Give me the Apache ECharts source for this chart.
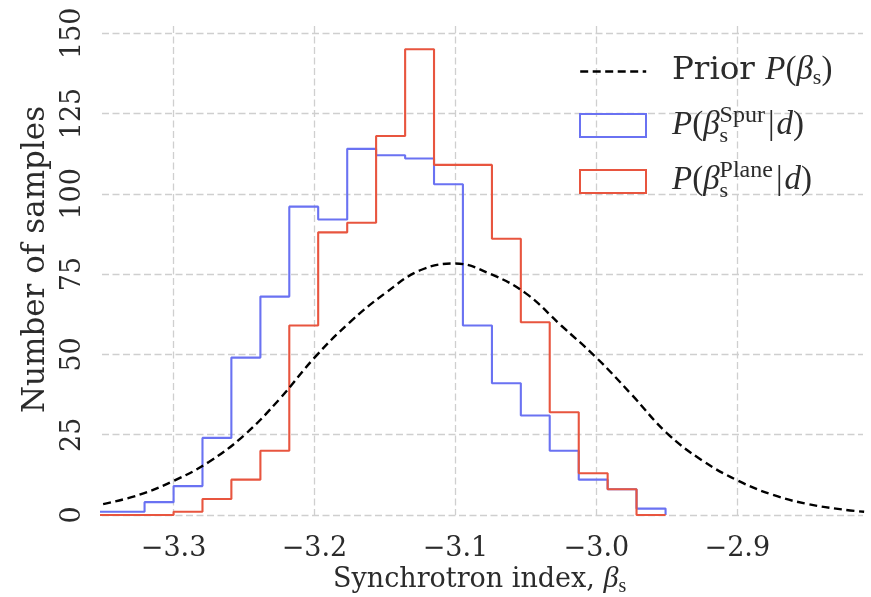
<!DOCTYPE html>
<html>
<head>
<meta charset="utf-8">
<script src="https://cdn.jsdelivr.net/npm/echarts@6/dist/echarts.min.js"></script>
<style>
  html, body { margin: 0; padding: 0; background: #ffffff; }
  #chart { width: 871px; height: 597px; }
</style>
</head>
<body>
<div id="chart"></div>
<script>
// Histogram bin edges (synchrotron index)
const binEdges = [-3.3616, -3.3411, -3.3206, -3.3000, -3.2795, -3.2590, -3.2384,
  -3.2179, -3.1974, -3.1768, -3.1563, -3.1357, -3.1152, -3.0947, -3.0741,
  -3.0536, -3.0331, -3.0125, -2.9920, -2.9715, -2.9509];
// Sample counts per bin
const spurCounts = [1, 1, 4, 9, 24, 49, 68, 96, 92, 114, 112, 111, 103, 59, 41, 31, 20, 11, 8, 2];
const planeCounts = [0, 0, 0, 1, 5, 11, 20, 59, 88, 91, 118, 145, 109, 109, 86, 60, 32, 13, 8, 0];
// Prior curve, sampled along the index
const priorX = [-3.35, -3.325, -3.30, -3.275, -3.25, -3.225, -3.20, -3.175, -3.15, -3.125,
  -3.10, -3.075, -3.05, -3.025, -3.00, -2.975, -2.95, -2.925, -2.90, -2.875, -2.85, -2.825, -2.81];
const priorY = [3.4, 6.2, 10.6, 16.5, 24.8, 36.0, 49.0, 60.0, 69.0, 76.2,
  78.3, 75.0, 69.0, 59.0, 49.0, 37.5, 25.5, 17.0, 10.8, 6.3, 3.4, 1.7, 1.0];
// Tick values
const xTicks = [-3.3, -3.2, -3.1, -3.0, -2.9];
const yTicks = [0, 25, 50, 75, 100, 125, 150];

const BLUE = '#6a72f2';
const RED = '#e8553f';
const TEXT = '#2b2b2b';
const SERIF = '"DejaVu Serif", serif';
const MATH = '"Liberation Serif", serif';
const PRIOR_DASH = [8, 4.5];

// Outline of a step histogram: rise at the first edge, fall at the last
function stepOutline(edges, counts) {
  const pts = [[edges[0], 0]];
  counts.forEach((c, i) => pts.push([edges[i], c]));
  pts.push([edges[edges.length - 1], counts[counts.length - 1]]);
  pts.push([edges[edges.length - 1], 0]);
  return pts;
}

// Text runs with sub/superscripts, laid out left to right from a baseline
const measure = document.createElement('canvas').getContext('2d');
function fontOf(p) {
  return (p.italic ? 'italic ' : '') + p.size + 'px ' + (p.fam || MATH);
}
function widthOf(t, font) { measure.font = font; return measure.measureText(t).width; }
function runText(x0, baseline, parts, z) {
  const els = [];
  let x = x0;
  const put = (p, x) => {
    const f = fontOf(p);
    els.push({
      type: 'text', x: x, y: baseline + (p.dy || 0) - 0.3 * p.size, z: z || 10,
      style: { text: p.t, font: f, fill: TEXT, align: 'left', verticalAlign: 'middle' }
    });
    return widthOf(p.t, f);
  };
  parts.forEach(p => {
    if (p.stack) {
      let w = 0;
      p.stack.forEach(s => { w = Math.max(w, put(s, x)); });
      x += w;
    } else {
      x += (p.dx || 0);
      x += put(p, x);
    }
  });
  return els;
}

const mathSize = 33;
const subSize = 22;
const legendX = 672;
const graphics = [].concat(
  runText(legendX, 80, [
    { t: 'Prior', size: 32.5, fam: SERIF },
    { t: ' ', size: 32.5, fam: SERIF },
    { t: 'P', size: mathSize, italic: true },
    { t: '(', size: mathSize },
    { t: 'β', size: mathSize, italic: true },
    { t: 's', size: subSize, dy: 5 },
    { t: ')', size: mathSize }
  ]),
  runText(legendX, 135, [
    { t: 'P', size: mathSize, italic: true },
    { t: '(', size: mathSize },
    { t: 'β', size: mathSize, italic: true },
    { stack: [{ t: 's', size: subSize, dy: 8 }, { t: 'Spur', size: 24, dy: -12 }] },
    { t: '|', size: mathSize, dx: 3 },
    { t: 'd', size: mathSize, italic: true, dx: 2 },
    { t: ')', size: mathSize }
  ]),
  runText(legendX, 190, [
    { t: 'P', size: mathSize, italic: true },
    { t: '(', size: mathSize },
    { t: 'β', size: mathSize, italic: true },
    { stack: [{ t: 's', size: subSize, dy: 8 }, { t: 'Plane', size: 24, dy: -12 }] },
    { t: '|', size: mathSize, dx: 3 },
    { t: 'd', size: mathSize, italic: true, dx: 2 },
    { t: ')', size: mathSize }
  ]),
  runText(333, 588, [
    { t: 'Synchrotron index, ', size: 27, fam: SERIF },
    { t: 'β', size: 30, italic: true },
    { t: 's', size: 20, dy: 5 }
  ])
);

function tickText(v) {
  return (v < 0 ? '\u2212' : '') + Math.abs(v).toFixed(1);
}

const gridLine = { show: true, lineStyle: { color: '#cfcfcf', width: 1.3, type: [7, 3.5] } };
const legendBase = {
  left: 579, itemWidth: 66, itemHeight: 23, padding: 0,
  formatter: () => '', selectedMode: false
};

const chart = echarts.init(document.getElementById('chart'), null, { renderer: 'canvas' });
chart.setOption({
  animation: false,
  backgroundColor: '#ffffff',
  grid: { left: 102, right: 8, top: 26, bottom: 82, containLabel: false },
  xAxis: {
    type: 'value', min: -3.3508, max: -2.8108,
    axisLine: { show: false },
    axisTick: { show: false, customValues: xTicks },
    axisLabel: {
      customValues: xTicks, formatter: tickText, margin: 20,
      fontFamily: SERIF, fontSize: 27, color: TEXT
    },
    splitLine: gridLine
  },
  yAxis: {
    type: 'value', min: 0, max: 152.25,
    name: 'Number of samples', nameLocation: 'middle', nameGap: 50,
    nameTextStyle: { fontFamily: SERIF, fontSize: 31, color: TEXT, padding: [0, 0, 0, 22] },
    axisLine: { show: false },
    axisTick: { show: false, customValues: yTicks },
    axisLabel: {
      customValues: yTicks, rotate: 90, margin: 16,
      fontFamily: SERIF, fontSize: 27, color: TEXT
    },
    splitLine: gridLine
  },
  legend: [
    Object.assign({}, legendBase, {
      top: 60,
      data: [{ name: 'prior',
        itemStyle: { color: 'rgba(0,0,0,0)', borderWidth: 0, opacity: 0 },
        lineStyle: { color: '#000000', width: 2.4, type: PRIOR_DASH } }]
    }),
    Object.assign({}, legendBase, {
      top: 113,
      data: [{ name: 'spur', icon: 'rect',
        itemStyle: { color: 'rgba(0,0,0,0)', borderColor: BLUE, borderWidth: 2 } }]
    }),
    Object.assign({}, legendBase, {
      top: 169,
      data: [{ name: 'plane', icon: 'rect',
        itemStyle: { color: 'rgba(0,0,0,0)', borderColor: RED, borderWidth: 2 } }]
    })
  ],
  graphic: graphics,
  series: [
    {
      name: 'spur', type: 'line', step: 'end', symbol: 'none', clip: true,
      data: stepOutline(binEdges, spurCounts),
      lineStyle: { color: BLUE, width: 2.1 }, itemStyle: { color: BLUE }, z: 3
    },
    {
      name: 'plane', type: 'line', step: 'end', symbol: 'none', clip: true,
      data: stepOutline(binEdges, planeCounts),
      lineStyle: { color: RED, width: 2.1 }, itemStyle: { color: RED }, z: 4
    },
    {
      name: 'prior', type: 'line', smooth: 0.4, symbol: 'none', clip: true,
      data: priorX.map((x, i) => [x, priorY[i]]),
      lineStyle: { color: '#000000', width: 2.4, type: PRIOR_DASH }, itemStyle: { color: '#000000' }, z: 5
    }
  ]
});
</script>
</body>
</html>
